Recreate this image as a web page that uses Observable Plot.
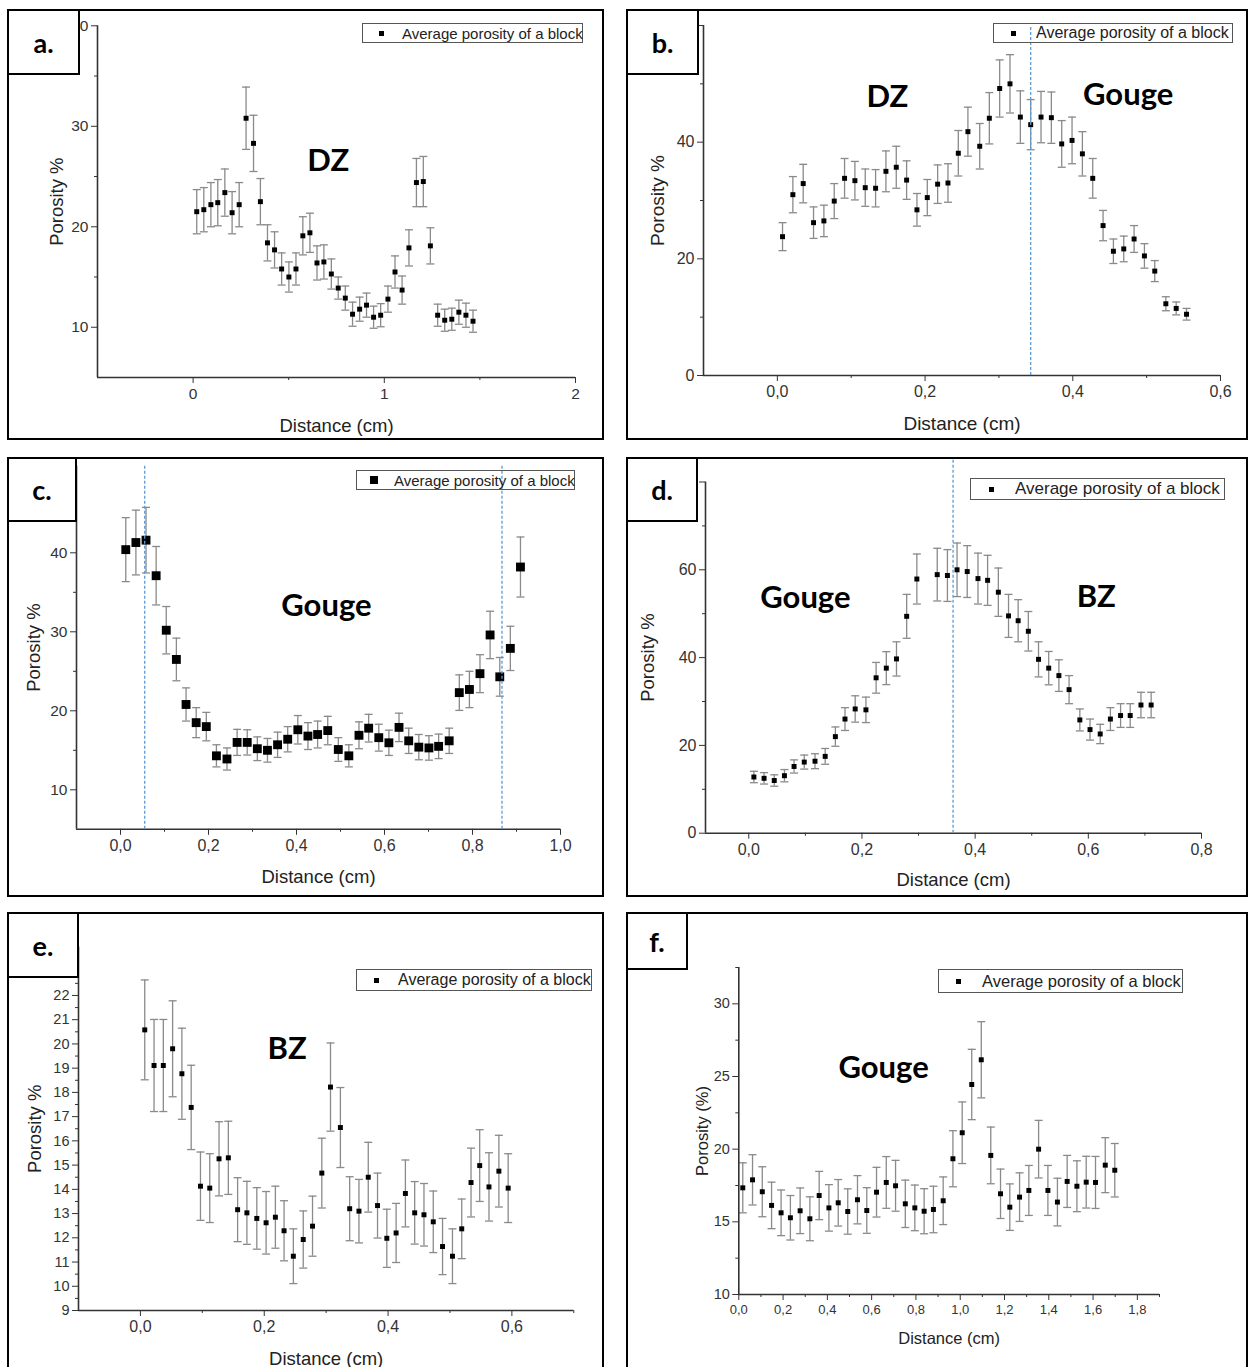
<!DOCTYPE html>
<html><head><meta charset="utf-8">
<script src="https://cdn.jsdelivr.net/npm/d3@7"></script>
<script src="https://cdn.jsdelivr.net/npm/@observablehq/plot@0.6"></script>
<style>
body{margin:0;background:#fff;}
#page{position:relative;width:1251px;height:1367px;overflow:hidden;background:#fff;font-family:"Liberation Sans",Arial,sans-serif;}
.box{position:absolute;border:2px solid #000;box-sizing:border-box;pointer-events:none;}
.tag{position:absolute;border:2px solid #000;box-sizing:border-box;background:#fff;font-family:Lato,sans-serif;font-weight:bold;font-size:27px;display:flex;align-items:center;justify-content:center;color:#000;}
.leg{position:absolute;border:1px solid #555;box-sizing:border-box;color:#222;white-space:nowrap;}
.leg i{position:absolute;background:#000;}
.leg span{position:absolute;top:50%;transform:translateY(-50%);}
</style></head><body><div id="page"></div><script>
// ---------- data ----------
const aX = [0.019,0.056,0.093,0.129,0.166,0.204,0.241,0.277,0.316,0.352,0.389,0.426,0.463,0.501,0.538,0.574,0.611,0.648,0.684,0.723,0.759,0.796,0.834,0.871,0.907,0.944,0.981,1.019,1.056,1.093,1.129,1.168,1.204,1.241,1.279,1.316,1.353,1.390,1.427,1.464];
const aY = [21.5,21.7,22.2,22.4,23.4,21.4,22.2,30.8,28.3,22.5,18.4,17.7,15.8,15.0,15.8,19.1,19.4,16.4,16.5,15.3,13.9,12.9,11.3,11.8,12.2,11.0,11.2,12.8,15.5,13.7,17.9,24.4,24.5,18.1,11.2,10.7,10.8,11.5,11.2,10.6];
const aErr = [2.2,2.2,2.2,2.3,2.35,2.1,2.2,3.1,2.8,2.3,1.8,1.8,1.6,1.5,1.6,1.9,1.95,1.7,1.7,1.5,1.1,1.2,1.2,1.2,1.2,1.1,1.15,1.3,1.6,1.4,1.8,2.4,2.5,1.8,1.1,1.1,1.1,1.2,1.2,1.1];

const bX = [0.007,0.021,0.035,0.049,0.063,0.077,0.091,0.105,0.119,0.133,0.147,0.161,0.175,0.189,0.203,0.217,0.231,0.245,0.258,0.274,0.287,0.301,0.315,0.329,0.343,0.357,0.371,0.385,0.399,0.413,0.427,0.441,0.455,0.469,0.483,0.497,0.511,0.526,0.540,0.554];
const bY = [23.8,31.0,32.9,26.2,26.5,29.9,33.8,33.4,32.2,32.1,35.0,35.7,33.5,28.4,30.5,32.8,33.0,38.1,41.8,39.3,44.1,49.2,50.0,44.3,43.0,44.3,44.2,39.7,40.3,38.0,33.8,25.7,21.3,21.7,23.4,20.5,17.9,12.3,11.5,10.5];
const bErr = [2.4,3.1,3.3,2.7,2.7,3.0,3.4,3.3,3.2,3.2,3.5,3.6,3.3,2.8,3.1,3.3,3.3,3.9,4.2,3.9,4.4,4.9,5.0,4.5,4.3,4.4,4.4,4.0,4.0,3.8,3.4,2.6,2.1,2.2,2.3,2.1,1.8,1.2,1.1,1.0];
const bLines = [0.343];

const cX = [0.012,0.035,0.058,0.081,0.104,0.127,0.149,0.172,0.195,0.218,0.242,0.265,0.288,0.311,0.334,0.357,0.380,0.403,0.426,0.448,0.471,0.495,0.519,0.542,0.564,0.587,0.610,0.633,0.655,0.678,0.701,0.723,0.747,0.770,0.793,0.817,0.840,0.862,0.886,0.909];
const cY = [40.4,41.3,41.6,37.1,30.2,26.5,20.8,18.5,18.0,14.3,13.9,16.0,16.0,15.2,15.0,15.7,16.4,17.6,16.8,17.0,17.5,15.1,14.3,16.9,17.8,16.6,15.95,17.9,16.2,15.4,15.3,15.5,16.2,22.3,22.7,24.7,29.6,24.3,27.9,38.2];
const cErr = [4.05,4.1,4.15,3.7,3.0,2.7,2.1,1.9,1.8,1.4,1.4,1.65,1.6,1.5,1.5,1.6,1.6,1.8,1.7,1.7,1.8,1.5,1.4,1.7,1.75,1.7,1.6,1.8,1.6,1.6,1.55,1.55,1.6,2.25,2.3,2.4,3.0,2.45,2.8,3.8];
const cLines = [0.055, 0.867];

const dX = [0.009,0.027,0.045,0.063,0.080,0.098,0.117,0.135,0.153,0.170,0.188,0.207,0.225,0.243,0.261,0.279,0.297,0.333,0.351,0.368,0.386,0.405,0.422,0.441,0.459,0.476,0.494,0.512,0.530,0.548,0.566,0.585,0.603,0.621,0.639,0.657,0.674,0.693,0.711];
const dY = [12.8,12.5,12.0,13.1,15.2,16.2,16.4,17.5,22.0,26.0,28.3,28.1,35.4,37.6,39.7,49.4,57.9,58.9,58.7,60.0,59.6,58.0,57.6,54.9,49.5,48.4,46.0,39.6,37.6,35.9,32.7,25.8,23.6,22.6,26.0,26.8,26.8,29.2,29.2];
const dErr = [1.3,1.3,1.3,1.4,1.5,1.6,1.7,1.8,2.2,2.6,3.0,2.9,3.5,3.75,3.9,5.0,5.7,6.0,5.9,6.1,5.9,5.8,5.7,5.5,4.9,4.8,4.5,4.0,3.8,3.6,3.2,2.5,2.4,2.2,2.6,2.7,2.7,2.9,2.9];
const dLines = [0.361];

const eX = [0.007,0.022,0.037,0.052,0.067,0.082,0.097,0.112,0.127,0.142,0.157,0.172,0.188,0.203,0.218,0.232,0.247,0.263,0.278,0.293,0.307,0.323,0.338,0.353,0.368,0.383,0.398,0.413,0.428,0.443,0.458,0.473,0.488,0.504,0.519,0.534,0.548,0.563,0.579,0.594];
const eY = [20.58,19.11,19.11,19.8,18.77,17.38,14.13,14.05,15.26,15.30,13.16,13.03,12.8,12.62,12.85,12.29,11.24,11.93,12.48,14.67,18.22,16.55,13.2,13.1,14.5,13.33,11.98,12.2,13.83,13.03,12.95,12.66,11.64,11.24,12.37,14.28,14.98,14.1,14.75,14.05];
const eErr = [2.06,1.9,1.9,1.98,1.88,1.74,1.41,1.42,1.53,1.51,1.32,1.3,1.27,1.29,1.28,1.24,1.13,1.18,1.24,1.44,1.82,1.65,1.32,1.31,1.44,1.34,1.2,1.22,1.38,1.29,1.29,1.27,1.16,1.13,1.23,1.42,1.48,1.41,1.48,1.42];

const fX = [0.018,0.062,0.106,0.148,0.191,0.233,0.277,0.321,0.363,0.407,0.449,0.492,0.536,0.578,0.622,0.666,0.708,0.752,0.795,0.837,0.879,0.923,0.967,1.009,1.052,1.095,1.138,1.182,1.224,1.268,1.310,1.354,1.396,1.439,1.483,1.527,1.569,1.611,1.655,1.698];
const fY = [17.34,17.89,17.07,16.13,15.62,15.28,15.76,15.21,16.81,15.96,16.31,15.71,16.52,15.78,17.04,17.71,17.48,16.24,15.96,15.73,15.85,16.45,19.34,21.13,24.45,26.15,19.57,16.93,16.01,16.7,17.16,20.0,17.16,16.36,17.78,17.45,17.73,17.71,18.9,18.55];
const fErr = [1.72,1.73,1.72,1.6,1.57,1.53,1.57,1.51,1.66,1.6,1.6,1.56,1.66,1.57,1.71,1.78,1.75,1.63,1.57,1.55,1.6,1.64,1.93,2.12,2.42,2.62,1.95,1.7,1.6,1.67,1.72,1.98,1.72,1.64,1.79,1.75,1.78,1.79,1.89,1.84];

// ---------- ticks ----------
const aXTicks = [0,1,2], aXMinor = [0.5,1.5], aYTicks = [10,20,30,40], aYMinor = [15,25,35];
const bXTicks = [0,0.2,0.4,0.6], bXMinor = [0.1,0.3,0.5], bYTicks = [0,20,40,60], bYMinor = [10,30,50];
const cXTicks = [0,0.2,0.4,0.6,0.8,1.0], cXMinor = [0.1,0.3,0.5,0.7,0.9], cYTicks = [10,20,30,40,50], cYMinor = [15,25,35,45];
const dXTicks = [0,0.2,0.4,0.6,0.8], dXMinor = [0.1,0.3,0.5,0.7], dYTicks = [0,20,40,60,80], dYMinor = [10,30,50,70];
const eXTicks = [0,0.2,0.4,0.6], eXMinor = [0.1,0.3,0.5,0.7], eYTicks = [9,10,11,12,13,14,15,16,17,18,19,20,21,22,23,24], eYMinor = [9.5,10.5,11.5,12.5,13.5,14.5,15.5,16.5,17.5,18.5,19.5,20.5,21.5,22.5,23.5];
const fXTicks = [0,0.2,0.4,0.6,0.8,1.0,1.2,1.4,1.6,1.8], fXMinor = [0.1,0.3,0.5,0.7,0.9,1.1,1.3,1.5,1.7,1.9], fYTicks = [10,15,20,25,30], fYMinor = [12.5,17.5,22.5,27.5,32.5];

const legendText = "Average porosity of a block";

// ---------- drawing ----------
const comma = d => d3.format(".1f")(d).replace(".", ",");
const plain = d => String(d);
const cap = {draw(ctx, size) { const w = Math.sqrt(size / Math.PI); ctx.moveTo(-w, 0); ctx.lineTo(w, 0); }};
const FONT = '"Liberation Sans", Arial, sans-serif';

const panels = [
  {tag:"a.", box:[7,9,597,431], tagBox:[7,9,73,66], svg:[7,9,597,431], m:[16.3,29,63,90],
   x:aX, y:aY, e:aErr, xd:[-0.5,2], yd:[5,40], xt:aXTicks, xm:aXMinor, yt:aYTicks, ym:aYMinor, xf:plain, yf:plain,
   r:2.8, lines:[], ytitle:"Porosity %", ylo:48, xlo:54, tfs:18.5, xfs:15.5, yfs:15.5,
   zones:[{t:"DZ", x:0.707, y:26.5}], leg:[362,23,221,20,5,16.5,40,15]},
  {tag:"b.", box:[626,9,622,431], tagBox:[626,9,73,66], svg:[626,9,622,431], m:[16,28,65,77],
   x:bX, y:bY, e:bErr, xd:[-0.1,0.6], yd:[0,60], xt:bXTicks, xm:bXMinor, yt:bYTicks, ym:bYMinor, xf:comma, yf:plain,
   r:2.8, lines:bLines, ly:[0,60], ytitle:"Porosity %", ylo:53, xlo:54, tfs:19, xfs:16, yfs:16,
   zones:[{t:"DZ", x:0.149, y:47.8},{t:"Gouge", x:0.475, y:48.0}], leg:[993,23,240,20,5,17.5,43,16]},
  {tag:"c.", box:[7,457,597,440], tagBox:[7,457,70,65], svg:[7,457,597,440], m:[8.4,44,68.2,69],
   x:cX, y:cY, e:cErr, xd:[-0.1,1.0], yd:[5,51], xt:cXTicks, xm:cXMinor, yt:cYTicks, ym:cYMinor, xf:comma, yf:plain,
   r:5, lines:cLines, ly:[5,51], ytitle:"Porosity %", ylo:49.5, xlo:54, tfs:18.5, xfs:16, yfs:15.5,
   zones:[{t:"Gouge", x:0.468, y:33.2}], leg:[356,470,219,20,8,14,38,15]},
  {tag:"d.", box:[626,457,622,440], tagBox:[626,457,72,65], svg:[626,457,622,440], m:[24.5,47,64.3,79],
   x:dX, y:dY, e:dErr, xd:[-0.0765,0.8], yd:[0,80], xt:dXTicks, xm:dXMinor, yt:dYTicks, ym:dYMinor, xf:comma, yf:plain,
   r:2.8, lines:dLines, ly:[0,85], ytitle:"Porosity %", ylo:65, xlo:53, tfs:18.5, xfs:16, yfs:16,
   zones:[{t:"Gouge", x:0.100, y:53.5},{t:"BZ", x:0.614, y:53.9}], leg:[970,478,255,22,5,18.5,45,17]},
  {tag:"e.", box:[7,912,597,470], tagBox:[7,912,72,66], svg:[7,912,597,455], m:[34.5,30.7,57,71],
   x:eX, y:eY, e:eErr, xd:[-0.1,0.7], yd:[9,24], xt:eXTicks, xm:eXMinor, yt:eYTicks, ym:eYMinor, xf:comma, yf:plain,
   r:2.8, lines:[], ytitle:"Porosity %", ylo:50.5, xlo:54, tfs:18.5, xfs:16, yfs:14.5,
   zones:[{t:"BZ", x:0.237, y:19.8}], leg:[356,969,236,22,5,17.5,42,16]},
  {tag:"f.", box:[626,912,622,470], tagBox:[626,912,62,58], svg:[626,912,622,455], m:[55,89,73,112.3],
   x:fX, y:fY, e:fErr, xd:[0,1.9], yd:[10,32.5], xt:fXTicks, xm:fXMinor, yt:fYTicks, ym:fYMinor, xf:comma, yf:plain,
   r:2.8, lines:[], ytitle:"Porosity (%)", ylo:43, xlo:49, tfs:16.5, xfs:13, yfs:14.5,
   zones:[{t:"Gouge", x:0.654, y:25.55}], leg:[938,969,245,24,5,17.5,44,16.5]}
];

const page = document.getElementById("page");
function div(cls, l, t, w, h) {
  const d = document.createElement("div");
  d.className = cls;
  Object.assign(d.style, {left: l + "px", top: t + "px", width: w + "px", height: h + "px"});
  page.appendChild(d);
  return d;
}

for (const p of panels) {
  const rows = p.x.map((xi, i) => ({x: xi, y: p.y[i], lo: p.y[i] - p.e[i], hi: p.y[i] + p.e[i]}));
  const [mt, mr, mb, ml] = p.m;
  const marks = [
    Plot.ruleX(rows, {x: "x", y1: "lo", y2: "hi", stroke: "#8a8a8a", strokeWidth: 1.3}),
    Plot.dot(rows, {x: "x", y: "lo", symbol: cap, r: 4, stroke: "#8a8a8a", strokeWidth: 1.3, fill: "none"}),
    Plot.dot(rows, {x: "x", y: "hi", symbol: cap, r: 4, stroke: "#8a8a8a", strokeWidth: 1.3, fill: "none"}),
    Plot.dot(rows, {x: "x", y: "y", symbol: "square", r: p.r, fill: "#000", stroke: "none"}),
    Plot.axisX({ticks: p.xt, tickSize: 6, tickPadding: 4, tickFormat: p.xf, fontSize: p.xfs, color: "#333",
      label: "Distance (cm)", labelAnchor: "center", labelOffset: p.xlo, labelArrow: "none"}),
    Plot.axisX({ticks: p.xm, tickSize: 3, tickFormat: () => "", label: null, color: "#333"}),
    Plot.axisY({ticks: p.yt, tickSize: 6, tickPadding: 3, tickFormat: p.yf, fontSize: p.yfs, color: "#333",
      label: p.ytitle, labelAnchor: "center", labelOffset: p.ylo, labelArrow: "none"}),
    Plot.axisY({ticks: p.ym, tickSize: 3, tickFormat: () => "", label: null, color: "#333"}),
    Plot.ruleX([p.xd[0]], {stroke: "#333", strokeWidth: 1.6}),
    Plot.ruleY([p.yd[0]], {stroke: "#333", strokeWidth: 1.6}),
    Plot.text(p.zones, {x: "x", y: "y", text: "t", fontFamily: "Lato", fontWeight: "bold", fontSize: 31, fill: "#000"})
  ];
  if (p.lines.length) marks.push(Plot.ruleX(p.lines, {y1: p.ly[0], y2: p.ly[1], stroke: "#5b9bd5", strokeWidth: 1.3, strokeDasharray: "3,2"}));
  const svg = Plot.plot({
    width: p.svg[2], height: p.svg[3],
    marginTop: mt, marginRight: mr, marginBottom: mb, marginLeft: ml,
    style: {fontFamily: FONT, fontSize: "15px", background: "transparent", overflow: "visible"},
    x: {domain: p.xd}, y: {domain: p.yd},
    marks
  });
  // axis title font size
  svg.querySelectorAll('[aria-label="x-axis label"] text, [aria-label="y-axis label"] text').forEach(t => {
    t.setAttribute("font-size", p.tfs); t.style.fill = "#222";
  });
  Object.assign(svg.style, {position: "absolute", left: p.svg[0] + "px", top: p.svg[1] + "px"});
  page.appendChild(svg);

  div("box", ...p.box);
  const [ll, lt, lw, lh, ms, mx, tx, fs] = p.leg;
  const lg = div("leg", ll, lt, lw, lh);
  const mk = document.createElement("i");
  Object.assign(mk.style, {width: ms + "px", height: ms + "px", left: (mx - 1) + "px", top: ((lh - 2 - ms) / 2) + "px"});
  lg.appendChild(mk);
  const sp = document.createElement("span");
  sp.textContent = legendText;
  Object.assign(sp.style, {left: (tx - 1) + "px", fontSize: fs + "px"});
  lg.appendChild(sp);
  const tg = div("tag", ...p.tagBox);
  tg.textContent = p.tag;
}
</script></body></html>
